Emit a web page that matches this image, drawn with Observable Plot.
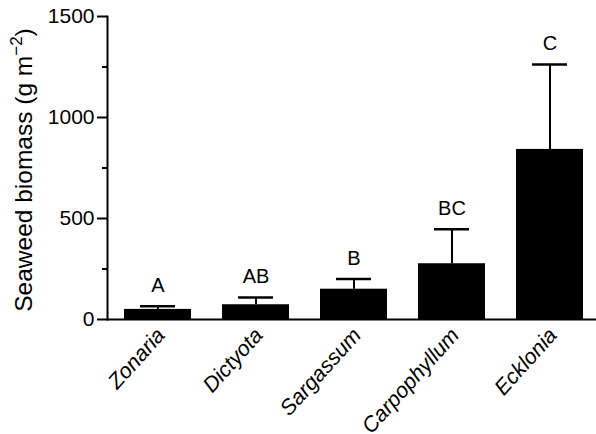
<!DOCTYPE html>
<html>
<head>
<meta charset="utf-8">
<script src="https://cdn.jsdelivr.net/npm/d3@7"></script>
<script src="https://cdn.jsdelivr.net/npm/@observablehq/plot@0.6"></script>
<style>
  html, body { margin: 0; padding: 0; background: white; }
</style>
</head>
<body>
<div id="chart"></div>
<script>
const names = ["Zonaria", "Dictyota", "Sargassum", "Carpophyllum", "Ecklonia"];
const means = [50, 73, 150, 276, 842];
const ses = [15, 36, 51, 171, 420];
const letters = ["A", "AB", "B", "BC", "C"];
const yTicks = [0, 500, 1000, 1500];
const yMinorTicks = [250, 750, 1250];

const data = names.map((n, i) => ({name: n, mean: means[i], se: ses[i], top: means[i] + ses[i], letter: letters[i]}));
const FONT = "Arial, 'Liberation Sans', Helvetica, sans-serif";

const chart = Plot.plot({
  width: 596,
  height: 434,
  marginLeft: 107,
  marginRight: 0,
  marginTop: 16,
  marginBottom: 115,
  style: {fontFamily: FONT, fontSize: "20px", color: "black", background: "white", overflow: "visible"},
  x: {domain: names, range: [107, 599], paddingInner: 0.32, paddingOuter: 0.16, axis: null},
  y: {domain: [0, 1500], axis: null},
  marks: [
    Plot.barY(data, {x: "name", y: "mean", fill: "black"}),
    Plot.ruleX(data, {x: "name", y1: "mean", y2: "top", stroke: "black", strokeWidth: 2}),
    Plot.tickY(data, {x: "name", y: "top", stroke: "black", strokeWidth: 2.5, insetLeft: 16, insetRight: 16}),
    Plot.text(data, {x: "name", y: "top", text: "letter", dy: -20.5, fontSize: 20, fill: "black"}),
    Plot.ruleY([0], {stroke: "black", strokeWidth: 2}),
    Plot.axisY({ticks: yTicks, tickSize: 10, tickPadding: 3, fontSize: 21, label: null, strokeWidth: 2, tickFormat: d => String(d)}),
    Plot.axisY({ticks: yMinorTicks, tickSize: 5, text: null, label: null, strokeWidth: 2}),
    Plot.frame({anchor: "left", stroke: "black", strokeWidth: 2}),
    Plot.text(data, {x: "name", y: () => 0, text: "name", rotate: -48, textAnchor: "end", dx: 3, dy: 12, fontSize: 21.5, fontStyle: "italic", fill: "black"})
  ]
});

const svg = d3.select(chart);
const lab = svg.append("text")
  .attr("transform", "translate(32,170) rotate(-90)")
  .attr("text-anchor", "middle")
  .attr("font-family", FONT)
  .attr("font-size", 24.5)
  .attr("fill", "black");
lab.append("tspan").text("Seaweed biomass (g m");
lab.append("tspan").attr("font-size", 17).attr("dy", -10).text("\u22122");
lab.append("tspan").attr("dy", 10).text(")");

document.getElementById("chart").appendChild(chart);
</script>
</body>
</html>
